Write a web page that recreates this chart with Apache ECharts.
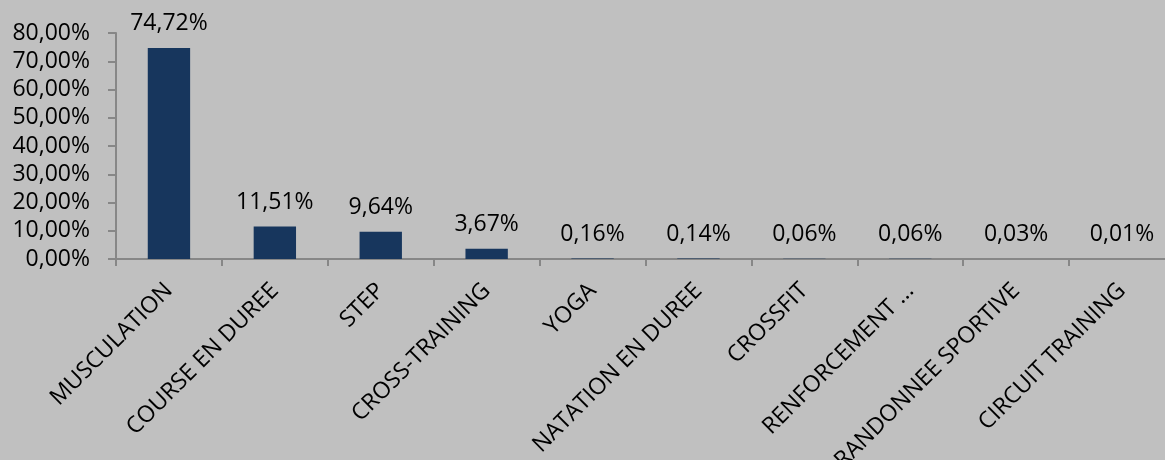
<!DOCTYPE html>
<html>
<head>
<meta charset="utf-8">
<script src="https://cdn.jsdelivr.net/npm/echarts@6/dist/echarts.min.js"></script>
<style>
html,body{margin:0;padding:0;background:#c0c0c0;}
#chart{width:1165px;height:460px;}
</style>
</head>
<body>
<div id="chart"></div>
<script>
var categories = ["MUSCULATION","COURSE EN DUREE","STEP","CROSS-TRAINING","YOGA","NATATION EN DUREE","CROSSFIT","RENFORCEMENT ...","RANDONNEE SPORTIVE","CIRCUIT TRAINING"];
var values = [74.72, 11.51, 9.64, 3.67, 0.16, 0.14, 0.06, 0.06, 0.03, 0.01];
var yTicks = [0, 10, 20, 30, 40, 50, 60, 70, 80];

function pct(v){ return v.toFixed(2).replace('.', ',') + '%'; }

var FONT = "'Open Sans', 'Liberation Sans', sans-serif";
var chart = echarts.init(document.getElementById('chart'), null, {renderer:'canvas'});
chart.setOption({
  backgroundColor: '#c0c0c0',
  animation: false,
  grid: {left: 116, right: -10, top: 33, bottom: 201, containLabel: false, outerBoundsMode: 'none'},
  xAxis: {
    type: 'category',
    data: categories,
    axisLine: {lineStyle: {color: '#878787', width: 2}},
    axisTick: {show: true, length: 7, lineStyle: {color: '#878787', width: 2}},
    axisLabel: {rotate: 45, interval: 0, margin: 28, color: '#000', fontFamily: FONT, fontSize: 23, hideOverlap: false}
  },
  yAxis: {
    type: 'value',
    min: yTicks[0],
    max: yTicks[yTicks.length - 1],
    interval: 10,
    splitLine: {show: false},
    axisLine: {show: true, lineStyle: {color: '#878787', width: 2}},
    axisTick: {show: true, length: 8, lineStyle: {color: '#878787', width: 2}},
    axisLabel: {formatter: pct, color: '#000', fontFamily: FONT, fontSize: 23, margin: 26}
  },
  series: [{
    type: 'bar',
    data: values,
    barWidth: '40%',
    itemStyle: {color: '#17365d'},
    label: {show: true, position: 'top', distance: 13, formatter: function(p){ return pct(p.value); }, color: '#000', fontFamily: FONT, fontSize: 23}
  }]
});
</script>
</body>
</html>
